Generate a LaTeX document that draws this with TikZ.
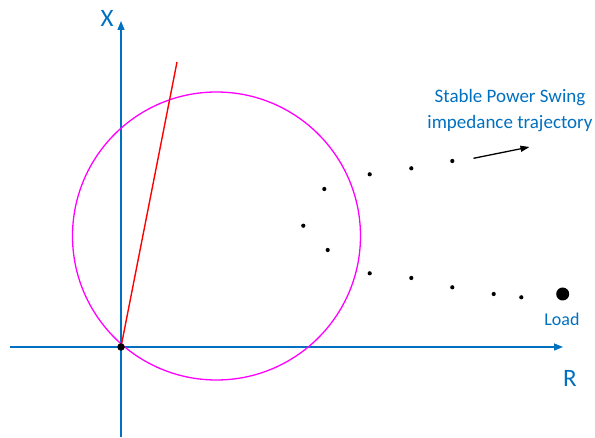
\documentclass[tikz,border=0pt]{standalone}
\usepackage{fontspec}
\setmainfont{Carlito}
\usetikzlibrary{arrows.meta}
\definecolor{axisblue}{RGB}{0,112,192}
\definecolor{textblue}{RGB}{0,112,192}
\definecolor{circmag}{RGB}{255,0,255}
\definecolor{linered}{RGB}{255,0,0}
\tikzset{
  axis/.style={draw=axisblue, line width=1.4pt, -{Triangle[length=9pt,width=7pt]}},
  pt/.style={circle, fill=black, inner sep=0pt, minimum size=4.2pt},
  lbl/.style={text=textblue, font=\fontsize{19}{26}\selectfont, align=center, inner sep=0pt},
}
\begin{document}
\begin{tikzpicture}[x=1pt,y=-1pt]
\useasboundingbox (0,0) rectangle (595,438);
% axes
\coordinate (xb) at (121,437);
\coordinate (xt) at (121,21);
\coordinate (rl) at (10,347);
\coordinate (rr) at (563,347);
\draw[axis] (xb) -- (xt);
\draw[axis] (rl) -- (rr);
\node[text=axisblue, font=\fontsize{25}{25}\selectfont, inner sep=0pt] (xlab) at (107,18) {X};
\node[text=axisblue, font=\fontsize{25}{25}\selectfont, inner sep=0pt] (rlab) at (570,378) {R};
% circle
\coordinate (cc) at (216.5,236);
\draw[circmag, line width=1.3pt] (cc) circle[radius=144];
% red line
\coordinate (o) at (121,347);
\coordinate (rt) at (177,62);
\draw[linered, line width=1.4pt] (o) -- (rt);
\node[circle, fill=black, inner sep=0pt, minimum size=7.5pt] (origin) at (o) {};
% trajectory dots
\node[pt] (d1) at (452.3,161) {};
\node[pt] (d2) at (411.3,168.3) {};
\node[pt] (d3) at (369.7,174.3) {};
\node[pt] (d4) at (324.3,189) {};
\node[pt] (d5) at (303.3,225.7) {};
\node[pt] (d6) at (327.7,250) {};
\node[pt] (d7) at (369.7,273.3) {};
\node[pt] (d8) at (411.3,278) {};
\node[pt] (d9) at (452.3,287.3) {};
\node[pt] (d10) at (493.7,294) {};
\node[pt] (d11) at (521.3,297.3) {};
\node[circle, fill=black, inner sep=0pt, minimum size=13pt] (load) at (562.7,294) {};
\node[lbl, font=\fontsize{18}{20}\selectfont] (loadlab) at (562,319) {Load};
% label and arrow
\node[lbl] (title) at (510,111) {Stable Power Swing\\impedance trajectory};
\coordinate (as) at (473.5,158.3);
\coordinate (ae) at (529.5,147);
\draw[black, line width=1.3pt, -{Triangle[length=9pt,width=6pt]}] (as) -- (ae);
\end{tikzpicture}
\end{document}
